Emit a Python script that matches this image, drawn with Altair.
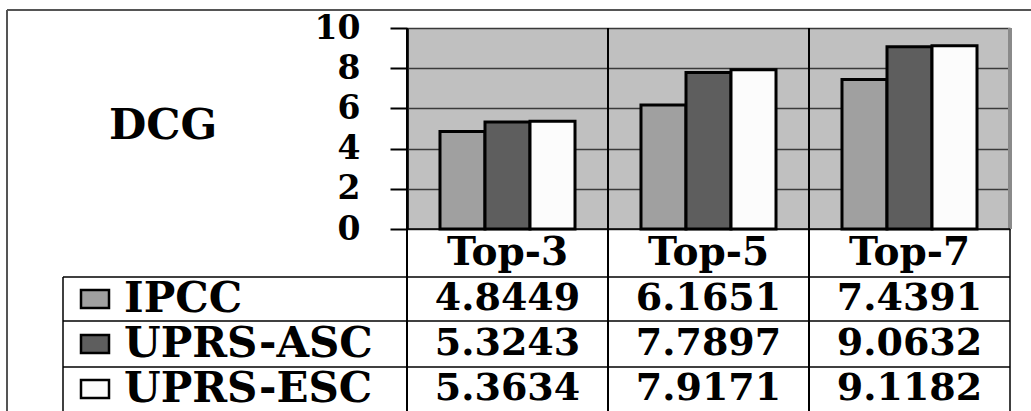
import altair as alt
import pandas as pd

# DCG at top-k for each method
categories = ["Top-3", "Top-5", "Top-7"]
series = ["IPCC", "UPRS-ASC", "UPRS-ESC"]
ipcc = [4.8449, 6.1651, 7.4391]
uprs_asc = [5.3243, 7.7897, 9.0632]
uprs_esc = [5.3634, 7.9171, 9.1182]
y_ticks = [0, 2, 4, 6, 8, 10]

fills = ["#A0A0A0", "#5E5E5E", "#FCFCFC"]
FONT = "DejaVu Serif"

rows = []
for name, vals in zip(series, [ipcc, uprs_asc, uprs_esc]):
    for c, v in zip(categories, vals):
        rows.append({"cat": c, "series": name, "val": v})
df = pd.DataFrame(rows)

W, H = 603, 201
x_enc = alt.X("cat:N", scale=alt.Scale(domain=categories, paddingInner=0, paddingOuter=0), axis=None)
color_scale = alt.Scale(domain=series, range=fills)

base = alt.Chart(df)

bars = base.mark_bar(stroke="black", strokeWidth=3).encode(
    x=x_enc,
    xOffset=alt.XOffset("series:N", scale=alt.Scale(domain=series, paddingInner=0, paddingOuter=0.733)),
    y=alt.Y("val:Q", scale=alt.Scale(domain=[0, 10], nice=False),
            axis=alt.Axis(values=y_ticks, title=None, tickSize=17, tickWidth=2, tickColor="black",
                          labelFont=FONT, labelFontWeight="bold", labelFontSize=33, labelColor="black",
                          labelPadding=30, domainColor="#222222", domainWidth=3,
                          grid=True, gridColor="#3a3a3a", gridWidth=1.5)),
    fill=alt.Fill("series:N", scale=color_scale, legend=None),
)

# right-hand shade of the plot area
shade = alt.Chart(pd.DataFrame({"a": [0]})).mark_rule(color="#8a8a8a", strokeWidth=4).encode(
    x=alt.value(W), y=alt.value(0), y2=alt.value(H)
)

# category dividers running through plot and table
dividers = alt.Chart(pd.DataFrame({"cat": categories})).mark_rule(color="black", strokeWidth=2).encode(
    x=alt.X("cat:N", bandPosition=0, scale=alt.Scale(domain=categories, paddingInner=0, paddingOuter=0), axis=None),
    y=alt.value(0), y2=alt.value(400),
)

line_df = pd.DataFrame({"a": [0]})
table_lines = [
    # horizontal table lines
    alt.Chart(line_df).mark_rule(color="black", strokeWidth=1.5).encode(
        x=alt.value(0), x2=alt.value(W), y=alt.value(H)),
    alt.Chart(line_df).mark_rule(color="black", strokeWidth=1.5).encode(
        x=alt.value(-344), x2=alt.value(W), y=alt.value(249)),
    alt.Chart(line_df).mark_rule(color="black", strokeWidth=1.5).encode(
        x=alt.value(-344), x2=alt.value(W), y=alt.value(293)),
    alt.Chart(line_df).mark_rule(color="black", strokeWidth=1.5).encode(
        x=alt.value(-344), x2=alt.value(W), y=alt.value(339)),
    # vertical table borders
    alt.Chart(line_df).mark_rule(color="black", strokeWidth=1.5).encode(
        x=alt.value(-344), y=alt.value(249), y2=alt.value(400)),
    alt.Chart(line_df).mark_rule(color="black", strokeWidth=1.5).encode(
        x=alt.value(W), y=alt.value(H), y2=alt.value(400)),
    alt.Chart(line_df).mark_rule(color="black", strokeWidth=2).encode(
        x=alt.value(0), y=alt.value(H), y2=alt.value(400)),
    # outer frame
    alt.Chart(line_df).mark_rule(color="#555555", strokeWidth=2).encode(
        x=alt.value(-400), x2=alt.value(640), y=alt.value(-18)),
    alt.Chart(line_df).mark_rule(color="#555555", strokeWidth=2).encode(
        x=alt.value(-400), y=alt.value(-18), y2=alt.value(400)),
]

headers = alt.Chart(pd.DataFrame({"cat": categories})).mark_text(
    font=FONT, fontWeight="bold", fontSize=39, color="black", baseline="middle", align="center"
).encode(x=x_enc, y=alt.value(225), text="cat:N")

title_txt = alt.Chart(line_df).mark_text(
    font=FONT, fontWeight="bold", fontSize=43, color="black", baseline="middle", align="center", text="DCG"
).encode(x=alt.value(-244), y=alt.value(98))

row_y = [271, 316, 361]
row_layers = []
for name, ry in zip(series, row_y):
    sub = base.transform_filter(alt.datum.series == name)
    row_layers.append(
        sub.mark_text(font=FONT, fontWeight="bold", fontSize=38, color="black",
                      baseline="middle", align="center").encode(
            x=x_enc, y=alt.value(ry), text=alt.Text("val:Q", format=".4f"))
    )
    key = alt.Chart(pd.DataFrame({"series": [name]}))
    row_layers.append(
        key.mark_rect(stroke="black", strokeWidth=2.5).encode(
            x=alt.value(-326), x2=alt.value(-298), y=alt.value(ry - 9), y2=alt.value(ry + 9),
            fill=alt.Fill("series:N", scale=color_scale, legend=None))
    )
    row_layers.append(
        key.mark_text(font=FONT, fontWeight="bold", fontSize=42, color="black",
                      baseline="middle", align="left").encode(
            x=alt.value(-283), y=alt.value(ry), text="series:N")
    )

chart = alt.layer(
    bars, shade, dividers, *table_lines, headers, title_txt, *row_layers
).properties(
    width=W, height=H, autosize="none",
    padding={"left": 407, "top": 28, "right": 21, "bottom": 182},
    background="white",
).configure_view(fill="#C0C0C0", stroke=None)

chart.save("out.html", embed_options={"renderer": "svg", "actions": False})
